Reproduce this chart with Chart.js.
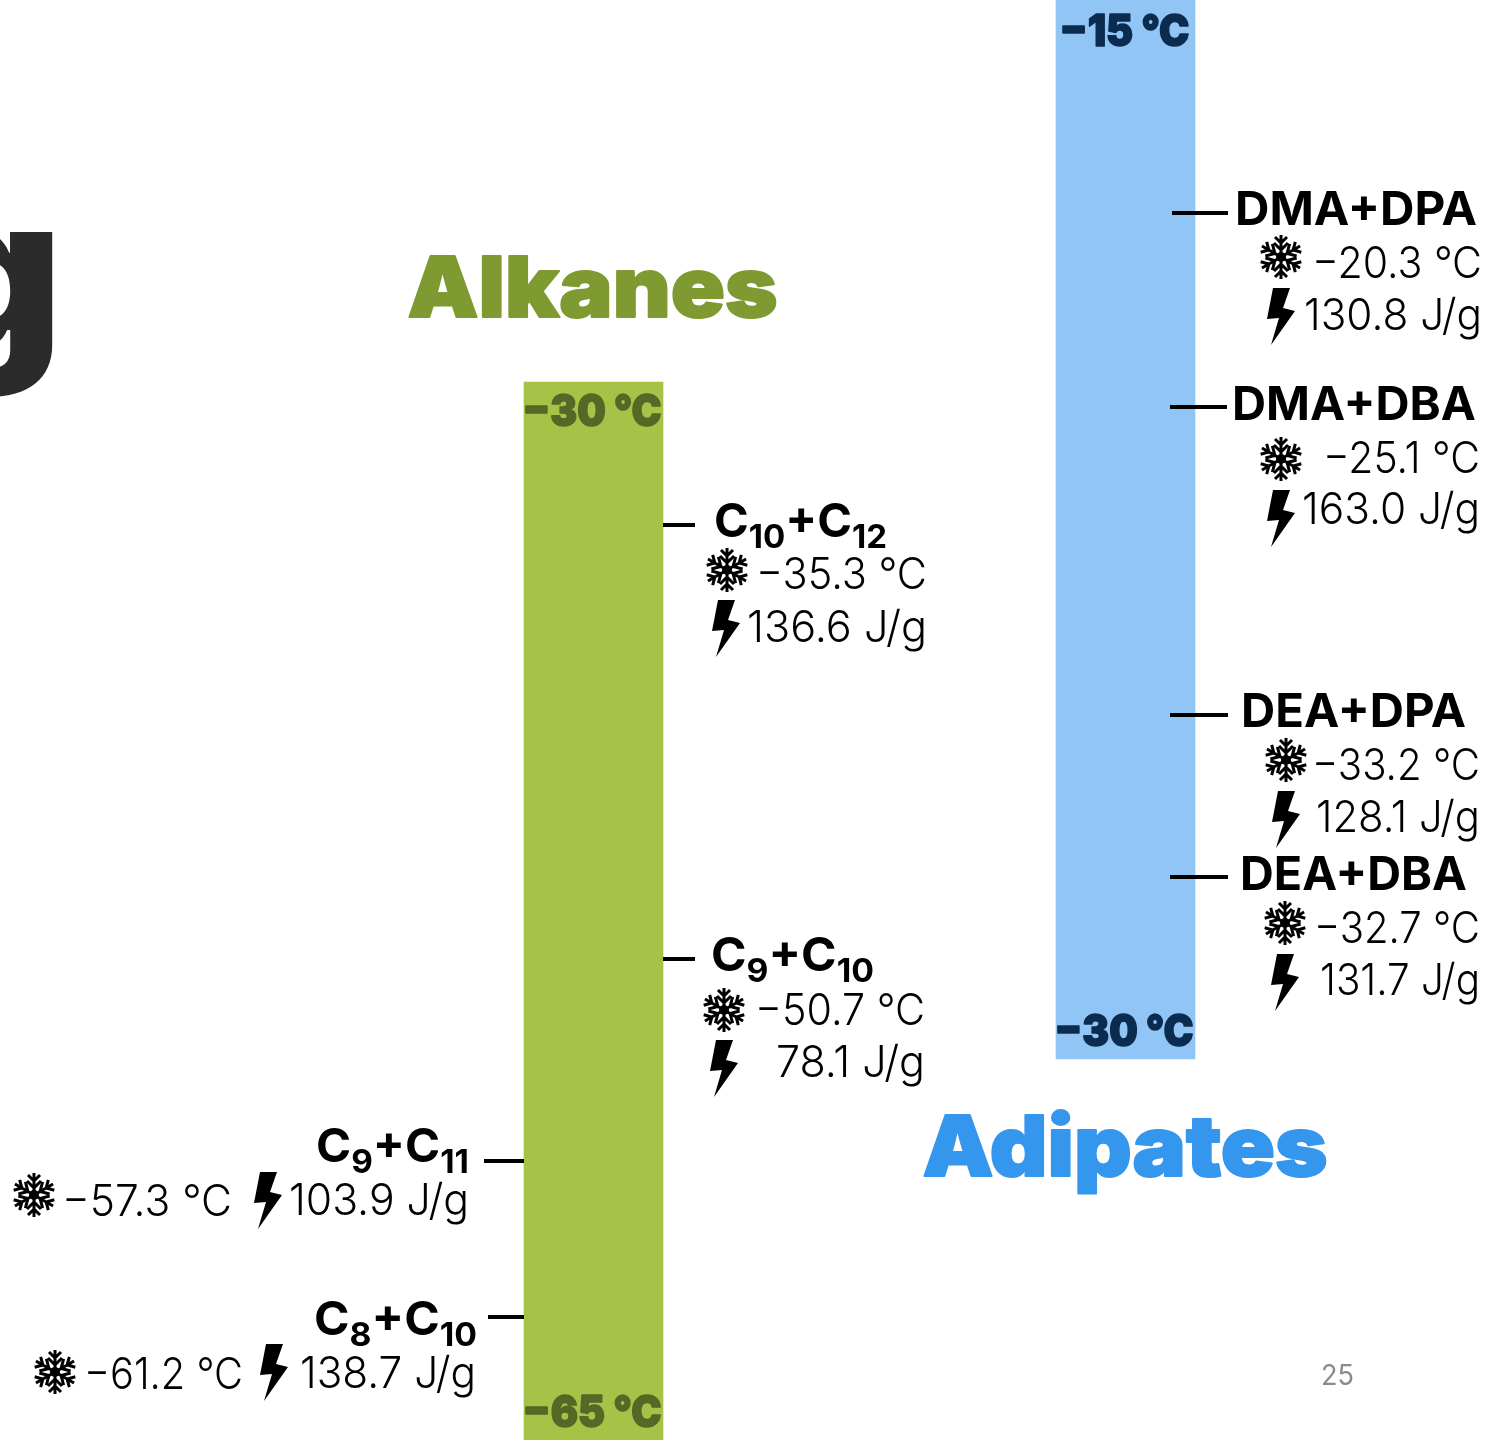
<!DOCTYPE html>
<html lang="en">
<head>
    <meta charset="UTF-8">
    <title>Alkanes and Adipates</title>
    <style>
        body { margin: 0; background: #fff; }
        canvas { display: block; }
    </style>
    <script src="https://cdn.jsdelivr.net/npm/chart.js"></script>
</head>
<body>
    <canvas id="chart" width="1504" height="1440"></canvas>
    <script>
        const categories = ['Alkanes', 'Adipates'];
        const alkaneRange = [-65, -30];
        const adipateRange = [-30, -15];

        const alkaneNames = ['C10+C12', 'C9+C10', 'C9+C11', 'C8+C10'];
        const alkaneMelting = [-35.3, -50.7, -57.3, -61.2];
        const alkaneEnthalpy = [136.6, 78.1, 103.9, 138.7];
        // where each tick sits along the bar (the picture is not to scale)
        const alkaneTickLevels = [-34.70, -49.05, -55.74, -60.90];

        const adipateNames = ['DMA+DPA', 'DMA+DBA', 'DEA+DPA', 'DEA+DBA'];
        const adipateMelting = [-20.3, -25.1, -33.2, -32.7];
        const adipateEnthalpy = [130.8, 163.0, 128.1, 131.7];
        const adipateTickLevels = [-18.00, -20.75, -25.11, -27.41];

        const GREEN = '#a6c247', GREEN_DARK = '#566726', GREEN_TITLE = '#7f9a30';
        const BLUE = '#90c5f6', BLUE_DARK = '#0b2b4f', BLUE_TITLE = '#3596ee';
        const LIGHT = '300 44px Inter', HEAVY = '900 44px Inter', TITLE = '900 84px Inter';

        // text and icon placement, one row per label
        const alkaneLayout = [
            { tick: [663, 695], name: [714, 887, 537], snow: [727, 570], temp: [756, 927, 589], bolt: [712, 600], energy: [747, 927, 642] },
            { tick: [663, 695], name: [711, 874, 971], snow: [724, 1010], temp: [755, 925, 1025], bolt: [710, 1040], energy: [776, 925, 1077] },
            { tick: [484, 524], name: [316, 469, 1162], snow: [34, 1195], temp: [62, 232, 1216], bolt: [254, 1172], energy: [289, 469, 1215] },
            { tick: [488, 524], name: [314, 477, 1335], snow: [55, 1372], temp: [84, 243, 1389], bolt: [260, 1344], energy: [300, 476, 1388] }
        ];
        const adipateLayout = [
            { tick: [1172, 1228], name: [1235, 1477, 225], snow: [1281, 257], temp: [1312, 1482, 278], bolt: [1267, 288], energy: [1304, 1482, 330] },
            { tick: [1170, 1227], name: [1232, 1476, 420], snow: [1281, 459], temp: [1323, 1480, 473], bolt: [1267, 490], energy: [1302, 1480, 524] },
            { tick: [1170, 1228], name: [1241, 1466, 727], snow: [1286, 760], temp: [1312, 1480, 780], bolt: [1272, 791], energy: [1316, 1480, 832] },
            { tick: [1170, 1228], name: [1240, 1467, 890], snow: [1285, 923], temp: [1314, 1480, 943], bolt: [1271, 954], energy: [1320, 1480, 995] }
        ];

        // bold is an optional stroke width, Inter Black is lighter than the slide's face
        function fitText(ctx, text, left, right, baseline, font, color, bold) {
            ctx.save();
            ctx.font = font;
            ctx.fillStyle = color;
            ctx.textAlign = 'left';
            ctx.textBaseline = 'alphabetic';
            ctx.translate(left, baseline);
            ctx.scale((right - left) / ctx.measureText(text).width, 1);
            ctx.fillText(text, 0, 0);
            if (bold) {
                ctx.strokeStyle = color;
                ctx.lineWidth = bold;
                ctx.lineJoin = 'round';
                ctx.strokeText(text, 0, 0);
            }
            ctx.restore();
        }

        // names like C10+C12 have subscripts, so they are drawn piece by piece
        function drawName(ctx, name, box) {
            const parts = name.match(/\d+|\D+/g);
            const main = '700 47px Inter', sub = '700 33px Inter';
            let total = 0;
            parts.forEach(p => {
                ctx.font = /\d/.test(p) ? sub : main;
                total += ctx.measureText(p).width;
            });
            const stretch = (box[1] - box[0]) / total;
            let x = box[0];
            parts.forEach(p => {
                const isSub = /\d/.test(p);
                const font = isSub ? sub : main;
                ctx.font = font;
                const w = ctx.measureText(p).width * stretch;
                fitText(ctx, p, x, x + w, box[2] + (isSub ? 11 : 0), font, '#000');
                x += w;
            });
        }

        function drawSnowflake(ctx, cx, cy) {
            ctx.save();
            ctx.translate(cx, cy);
            ctx.strokeStyle = '#000';
            ctx.lineWidth = 3;
            ctx.lineCap = 'butt';
            for (let i = 0; i < 6; i++) {
                ctx.rotate(Math.PI / 3);
                ctx.beginPath();
                ctx.moveTo(0, 0);
                ctx.lineTo(0, -22);
                ctx.moveTo(-6, -20);
                ctx.lineTo(0, -14);
                ctx.lineTo(6, -20);
                ctx.moveTo(-7, -14);
                ctx.lineTo(0, -7);
                ctx.lineTo(7, -14);
                ctx.stroke();
            }
            ctx.beginPath();
            ctx.arc(0, 0, 5, 0, Math.PI * 2);
            ctx.fillStyle = '#000';
            ctx.fill();
            ctx.restore();
        }

        function drawBolt(ctx, x, y) {
            const pts = [[6, 0], [23, 0], [16, 20], [28, 23], [4, 57], [12, 30], [0, 31]];
            ctx.beginPath();
            pts.forEach((p, i) => i ? ctx.lineTo(x + p[0], y + p[1]) : ctx.moveTo(x + p[0], y + p[1]));
            ctx.closePath();
            ctx.fillStyle = '#000';
            ctx.fill();
        }

        function drawLabels(ctx, scale, levels, names, melting, enthalpy, layout) {
            levels.forEach((level, i) => {
                const row = layout[i];
                const y = scale.getPixelForValue(level);
                ctx.fillStyle = '#000';
                ctx.fillRect(row.tick[0], Math.round(y) - 1, row.tick[1] - row.tick[0], 4);
                drawName(ctx, names[i], row.name);
                drawSnowflake(ctx, row.snow[0], row.snow[1]);
                drawBolt(ctx, row.bolt[0], row.bolt[1]);
                fitText(ctx, '\u2212' + Math.abs(melting[i]).toFixed(1) + ' °C', row.temp[0], row.temp[1], row.temp[2], LIGHT, '#000');
                fitText(ctx, enthalpy[i].toFixed(1) + ' J/g', row.energy[0], row.energy[1], row.energy[2], LIGHT, '#000');
            });
        }

        const slideText = {
            id: 'slideText',
            afterDatasetsDraw(chart) {
                const ctx = chart.ctx;
                const yA = chart.scales.yAlkane, yB = chart.scales.yAdipate;
                const xA = chart.scales.x.getPixelForValue(0), xB = chart.scales.x.getPixelForValue(1);

                // end of the word above, cut off by the slide edge
                ctx.save();
                ctx.font = '900 217px Inter';
                ctx.fillStyle = '#2b2b2b';
                ctx.textAlign = 'right';
                ctx.fillText('g', 63, 350);
                ctx.restore();

                fitText(ctx, categories[0], xA - 186, xA + 184, 317, TITLE, GREEN_TITLE, 2);
                fitText(ctx, categories[1], xB - 203, xB + 202, 1176, TITLE, BLUE_TITLE, 2);

                const rangeLabel = v => '\u2212' + Math.abs(v) + ' °C';
                fitText(ctx, rangeLabel(alkaneRange[1]), xA - 71, xA + 68, yA.getPixelForValue(alkaneRange[1]) + 44, HEAVY, GREEN_DARK, 1.5);
                fitText(ctx, rangeLabel(alkaneRange[0]), xA - 71, xA + 68, yA.getPixelForValue(alkaneRange[0]) - 13, HEAVY, GREEN_DARK, 1.5);
                fitText(ctx, rangeLabel(adipateRange[1]), xB - 66, xB + 64, yB.getPixelForValue(adipateRange[1]) + 46, HEAVY, BLUE_DARK, 1.5);
                fitText(ctx, rangeLabel(adipateRange[0]), xB - 71, xB + 68, yB.getPixelForValue(adipateRange[0]) - 13, HEAVY, BLUE_DARK, 1.5);

                drawLabels(ctx, yA, alkaneTickLevels, alkaneNames, alkaneMelting, alkaneEnthalpy, alkaneLayout);
                drawLabels(ctx, yB, adipateTickLevels, adipateNames, adipateMelting, adipateEnthalpy, adipateLayout);

                fitText(ctx, '25', 1321, 1354, 1385, '400 28px Inter', '#8a8a8a');
            }
        };

        new Chart(document.getElementById('chart'), {
            type: 'bar',
            data: {
                labels: categories,
                datasets: [
                    { data: [alkaneRange, null], backgroundColor: GREEN, yAxisID: 'yAlkane' },
                    { data: [null, adipateRange], backgroundColor: BLUE, yAxisID: 'yAdipate' }
                ]
            },
            options: {
                responsive: false,
                animation: false,
                layout: { padding: { left: 327.5, right: 112.5, top: 0, bottom: 0 } },
                datasets: { bar: { grouped: false, barThickness: 139 } },
                plugins: { legend: { display: false }, tooltip: { enabled: false } },
                scales: {
                    x: { display: false },
                    yAlkane: { display: false, min: -65, max: -17.363 },
                    yAdipate: { display: false, min: -35.397, max: -15 }
                }
            },
            plugins: [slideText]
        });
    </script>
</body>
</html>
